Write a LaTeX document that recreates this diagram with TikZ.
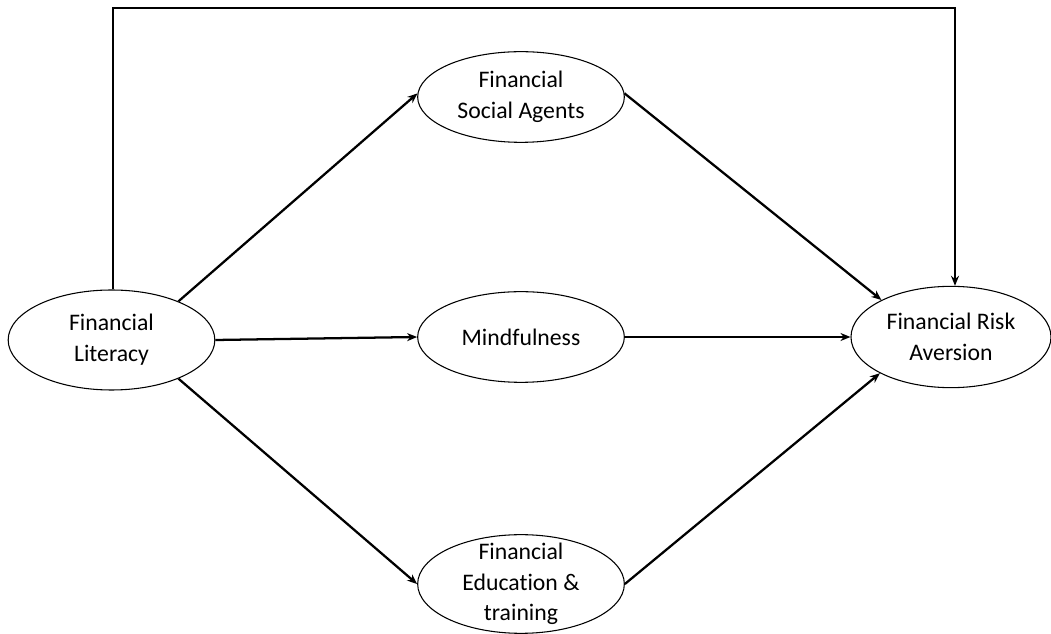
\documentclass[tikz,border=0pt]{standalone}
\usepackage{fontspec}
\setmainfont{Carlito}[Ligatures=NoCommon]
\usetikzlibrary{shapes.geometric,arrows.meta}
\begin{document}
\begin{tikzpicture}[x=0.75pt,y=-0.75pt,
  var/.style={ellipse, draw, line width=0.8pt, minimum width=155pt, minimum height=72pt, inner sep=0pt},
  lbl/.style={align=center, font=\fontsize{17.8}{23}\selectfont, inner sep=0pt},
  conn/.style={line width=1.7pt, -{Stealth[length=7.5pt,width=6pt]}}]
\useasboundingbox (0,0) rectangle (1051,634);
\node[var, minimum height=75pt, label={[lbl]center:Financial\\Literacy}] (fl) at (111.5,340) {};
\node[var, minimum height=68pt, label={[lbl]center:Financial\\Social Agents}] (fsa) at (521,97) {};
\node[var, minimum height=68pt, label={[lbl]center:Mindfulness}] (mind) at (521,337) {};
\node[var, minimum height=74pt, label={[lbl]center:Financial\\Education \&\\training}] (fed) at (521,584) {};
\node[var, minimum width=150pt, minimum height=76pt, label={[lbl]center:Financial Risk\\Aversion}] (fra) at (951,337) {};
\coordinate (topl) at (113,8);
\coordinate (topr) at (955,8);
\draw[conn] (topl |- fl.north) -- (topl) -- (topr) -- (topr |- fra.north);
\draw[conn] (fl.30) -- (fsa.178);
\draw[conn] (fl.east) -- (mind.west);
\draw[conn] (fl.-30) -- (fed.west);
\draw[conn] (fsa.2) -- (fra.152);
\draw[conn] (mind.east) -- (fra.west);
\draw[conn] (fed.east) -- (fra.-153);
\end{tikzpicture}
\end{document}
